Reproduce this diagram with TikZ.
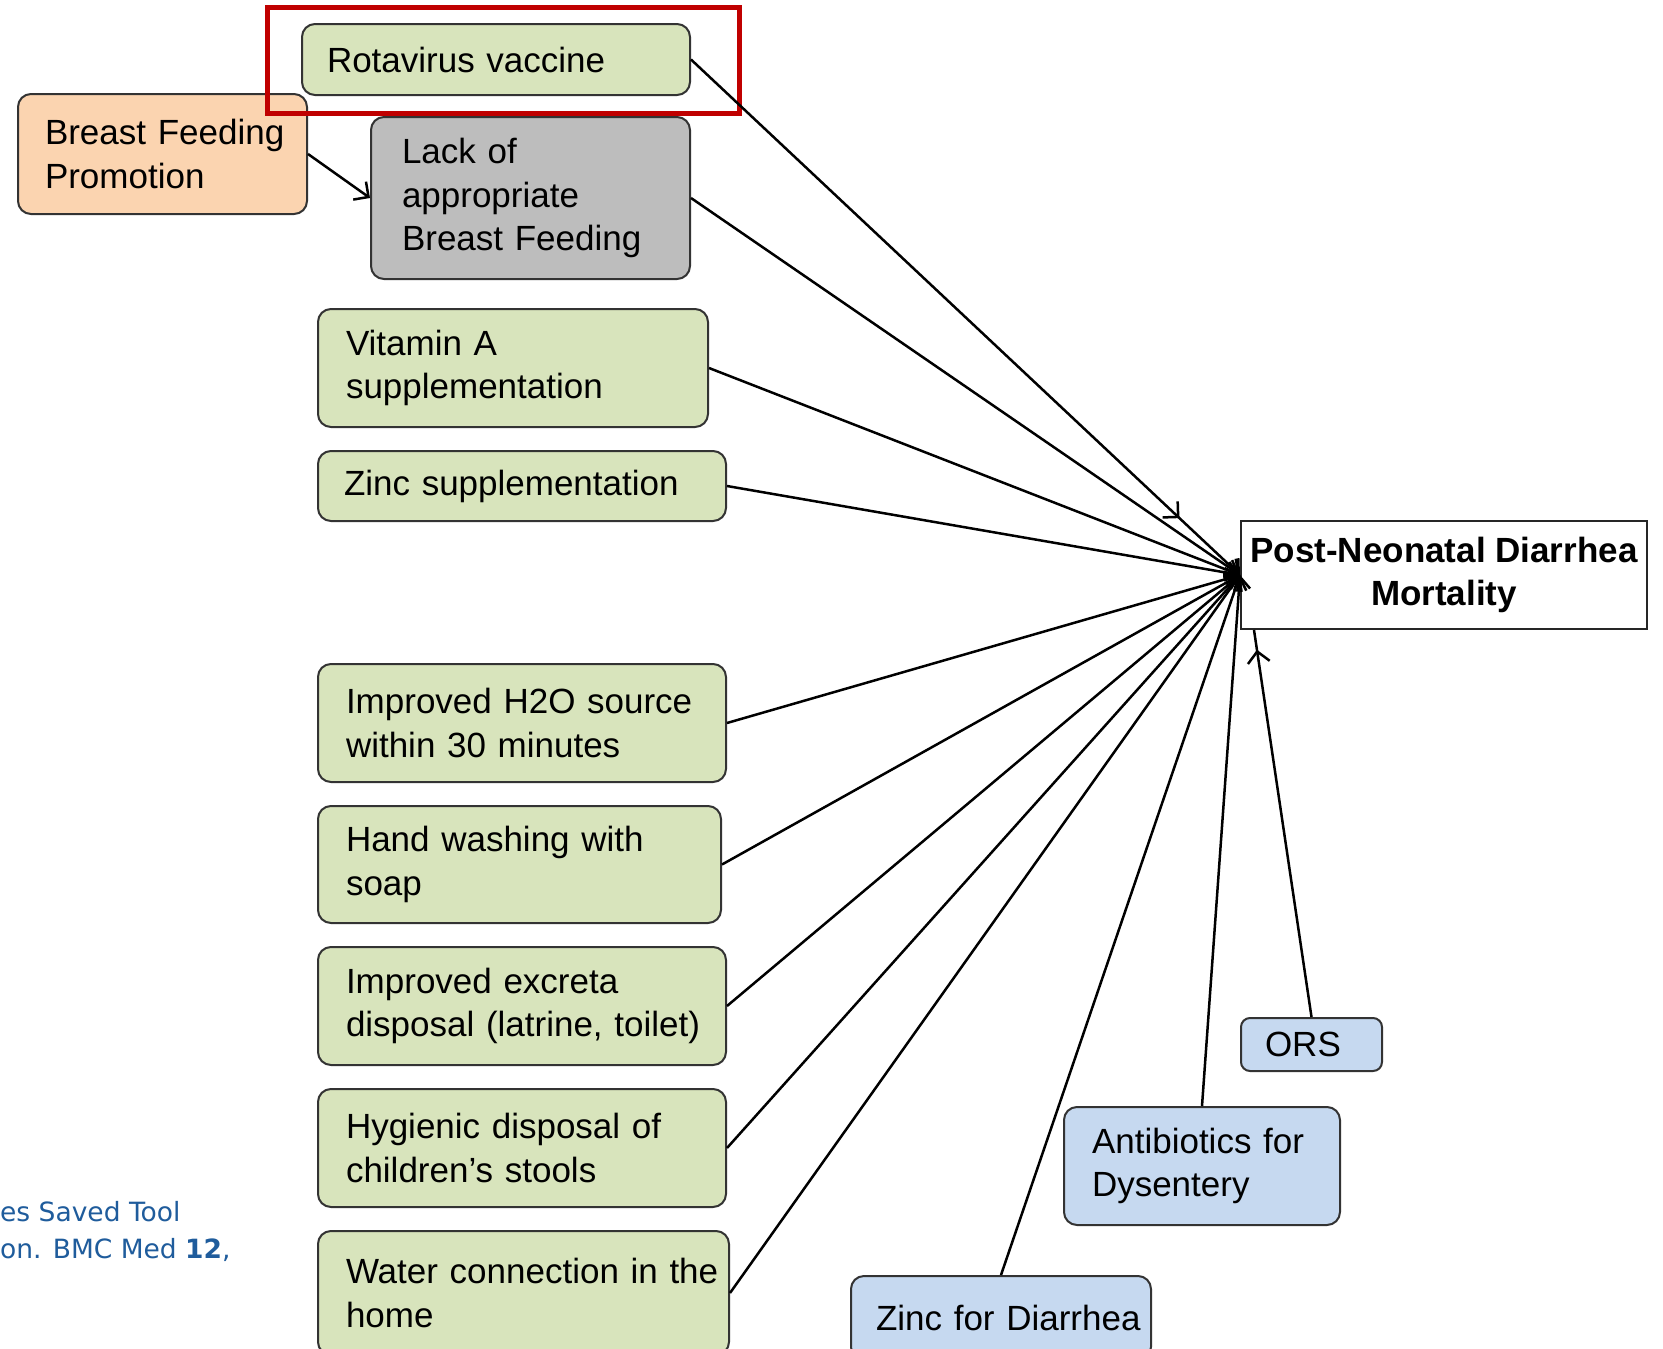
\documentclass[tikz,border=0pt]{standalone}
\usepackage{fontspec}
\setmainfont{Liberation Sans}
\newfontfamily\citefont{DejaVu Sans}
\usetikzlibrary{arrows.meta,decorations.markings,calc}
\definecolor{boxgreen}{HTML}{D8E4BC}
\definecolor{boxorange}{HTML}{FBD4B0}
\definecolor{boxgray}{HTML}{BDBDBD}
\definecolor{boxblue}{HTML}{C6D9F0}
\definecolor{framered}{HTML}{C00000}
\definecolor{citeblue}{HTML}{1F5C9C}
\definecolor{edgegray}{HTML}{333333}
\hyphenpenalty=10000
\exhyphenpenalty=10000
\hbadness=10000
\hfuzz=100pt
\begin{document}
\begin{tikzpicture}[x=1pt,y=-1pt,
  box/.style={draw=edgegray, line width=2pt, rounded corners=13pt, align=left,
    font=\fontsize{35}{43.5}\selectfont, inner ysep=0pt},
  greenbox/.style={box, fill=boxgreen},
  orangebox/.style={box, fill=boxorange},
  graybox/.style={box, fill=boxgray},
  bluebox/.style={box, fill=boxblue},
  outcome/.style={draw=black!85, line width=2pt, fill=white, align=center,
    font=\bfseries\fontsize{35}{42.5}\selectfont, inner sep=0pt},
  link/.style={draw=black, line width=2.5pt, -{Straight Barb[length=11pt,width=22pt]}},
  plainlink/.style={draw=black, line width=2.5pt},
  midarrow/.style={postaction={decorate}, decoration={markings,
    mark=at position #1 with {\arrow{Straight Barb[length=11pt,width=22pt]}}}},
  cite/.style={font=\citefont\fontsize{26.5}{30}\selectfont, text=citeblue, inner sep=0pt, anchor=base west}
]
\clip (0,0) rectangle (1663,1349);
\fill[white] (0,0) rectangle (1663,1349);

% nodes
\node[greenbox, minimum height=71pt, text width=338pt, inner xsep=25pt] (rot) at (496,59.5) {\mbox{Rotavirus vaccine}};
\node[orangebox, minimum height=120pt, text width=235pt, inner xsep=27pt] (bfp) at (162.5,154) {\mbox{Breast Feeding}\\\mbox{Promotion}};
\node[graybox, minimum height=162pt, text width=257pt, inner xsep=31pt] (lack) at (530.5,198) {\mbox{Lack of}\\\mbox{appropriate}\\\mbox{Breast Feeding}};
\node[greenbox, minimum height=118pt, text width=334pt, inner xsep=28pt] (vita) at (513,368) {\mbox{Vitamin A}\\\mbox{supplementation}};
\node[greenbox, minimum height=70pt, text width=356pt, inner xsep=26pt] (zinc) at (522,486) {\mbox{Zinc supplementation}};
\node[greenbox, minimum height=118pt, text width=352pt, inner xsep=28pt] (h2o) at (522,723) {\mbox{Improved H2O source}\\\mbox{within 30 minutes}};
\node[greenbox, minimum height=117pt, text width=347pt, inner xsep=28pt] (hand) at (519.5,864.5) {\mbox{Hand washing with}\\\mbox{soap}};
\node[greenbox, minimum height=118pt, text width=352pt, inner xsep=28pt] (excr) at (522,1006) {\mbox{Improved excreta}\\\mbox{disposal (latrine, toilet)}};
\node[greenbox, minimum height=118pt, text width=352pt, inner xsep=28pt] (hyg) at (522,1148) {\mbox{Hygienic disposal of}\\\mbox{children’s stools}};
\node[greenbox, minimum height=124pt, text width=355pt, inner xsep=28pt] (water) at (523.5,1293) {\mbox{Water connection in the}\\\mbox{home}};
\node[outcome, minimum width=406pt, minimum height=108pt] (pnd) at (1444,575) {Post-Neonatal Diarrhea\\Mortality};
\node[bluebox, rounded corners=9pt, minimum height=53pt, text width=93pt, inner xsep=24pt] (ors) at (1311.5,1044.5) {\mbox{ORS}};
\node[bluebox, minimum height=118pt, text width=220pt, inner xsep=28pt] (anti) at (1202,1166) {\mbox{Antibiotics for}\\\mbox{Dysentery}};
\node[bluebox, minimum height=84pt, text width=250pt, inner xsep=25pt] (zdia) at (1001,1318) {\mbox{Zinc for Diarrhea}};

% highlight frame
\draw[framered, line width=5pt] (267,7) rectangle (739,113);

% citation fragment
\node[cite] (c1) at (0,1221) {es Saved Tool};
\node[cite] (c2) at (0,1258) {on. BMC Med \textbf{12},};

% connectors
\draw[link] (bfp.east) -- (lack.west);
\draw[link, midarrow=0.89] (rot.east) -- (pnd.west);
\draw[link] (lack.east) -- (pnd.west);
\draw[link] (vita.east) -- (pnd.west);
\draw[link] (zinc.east) -- (pnd.west);
\draw[link] (h2o.east) -- (pnd.west);
\draw[link] (hand.east) -- (pnd.west);
\draw[link] (excr.east) -- (pnd.west);
\draw[link] (hyg.east) -- (pnd.west);
\draw[link] (water.east) -- (pnd.west);
\draw[link] (zdia.north) -- (pnd.west);
\draw[link] (anti.north) -- (pnd.west);
\draw[plainlink, midarrow=0.949] (ors.north) -- ($(pnd.south west)+(14,0)$);
\end{tikzpicture}
\end{document}
